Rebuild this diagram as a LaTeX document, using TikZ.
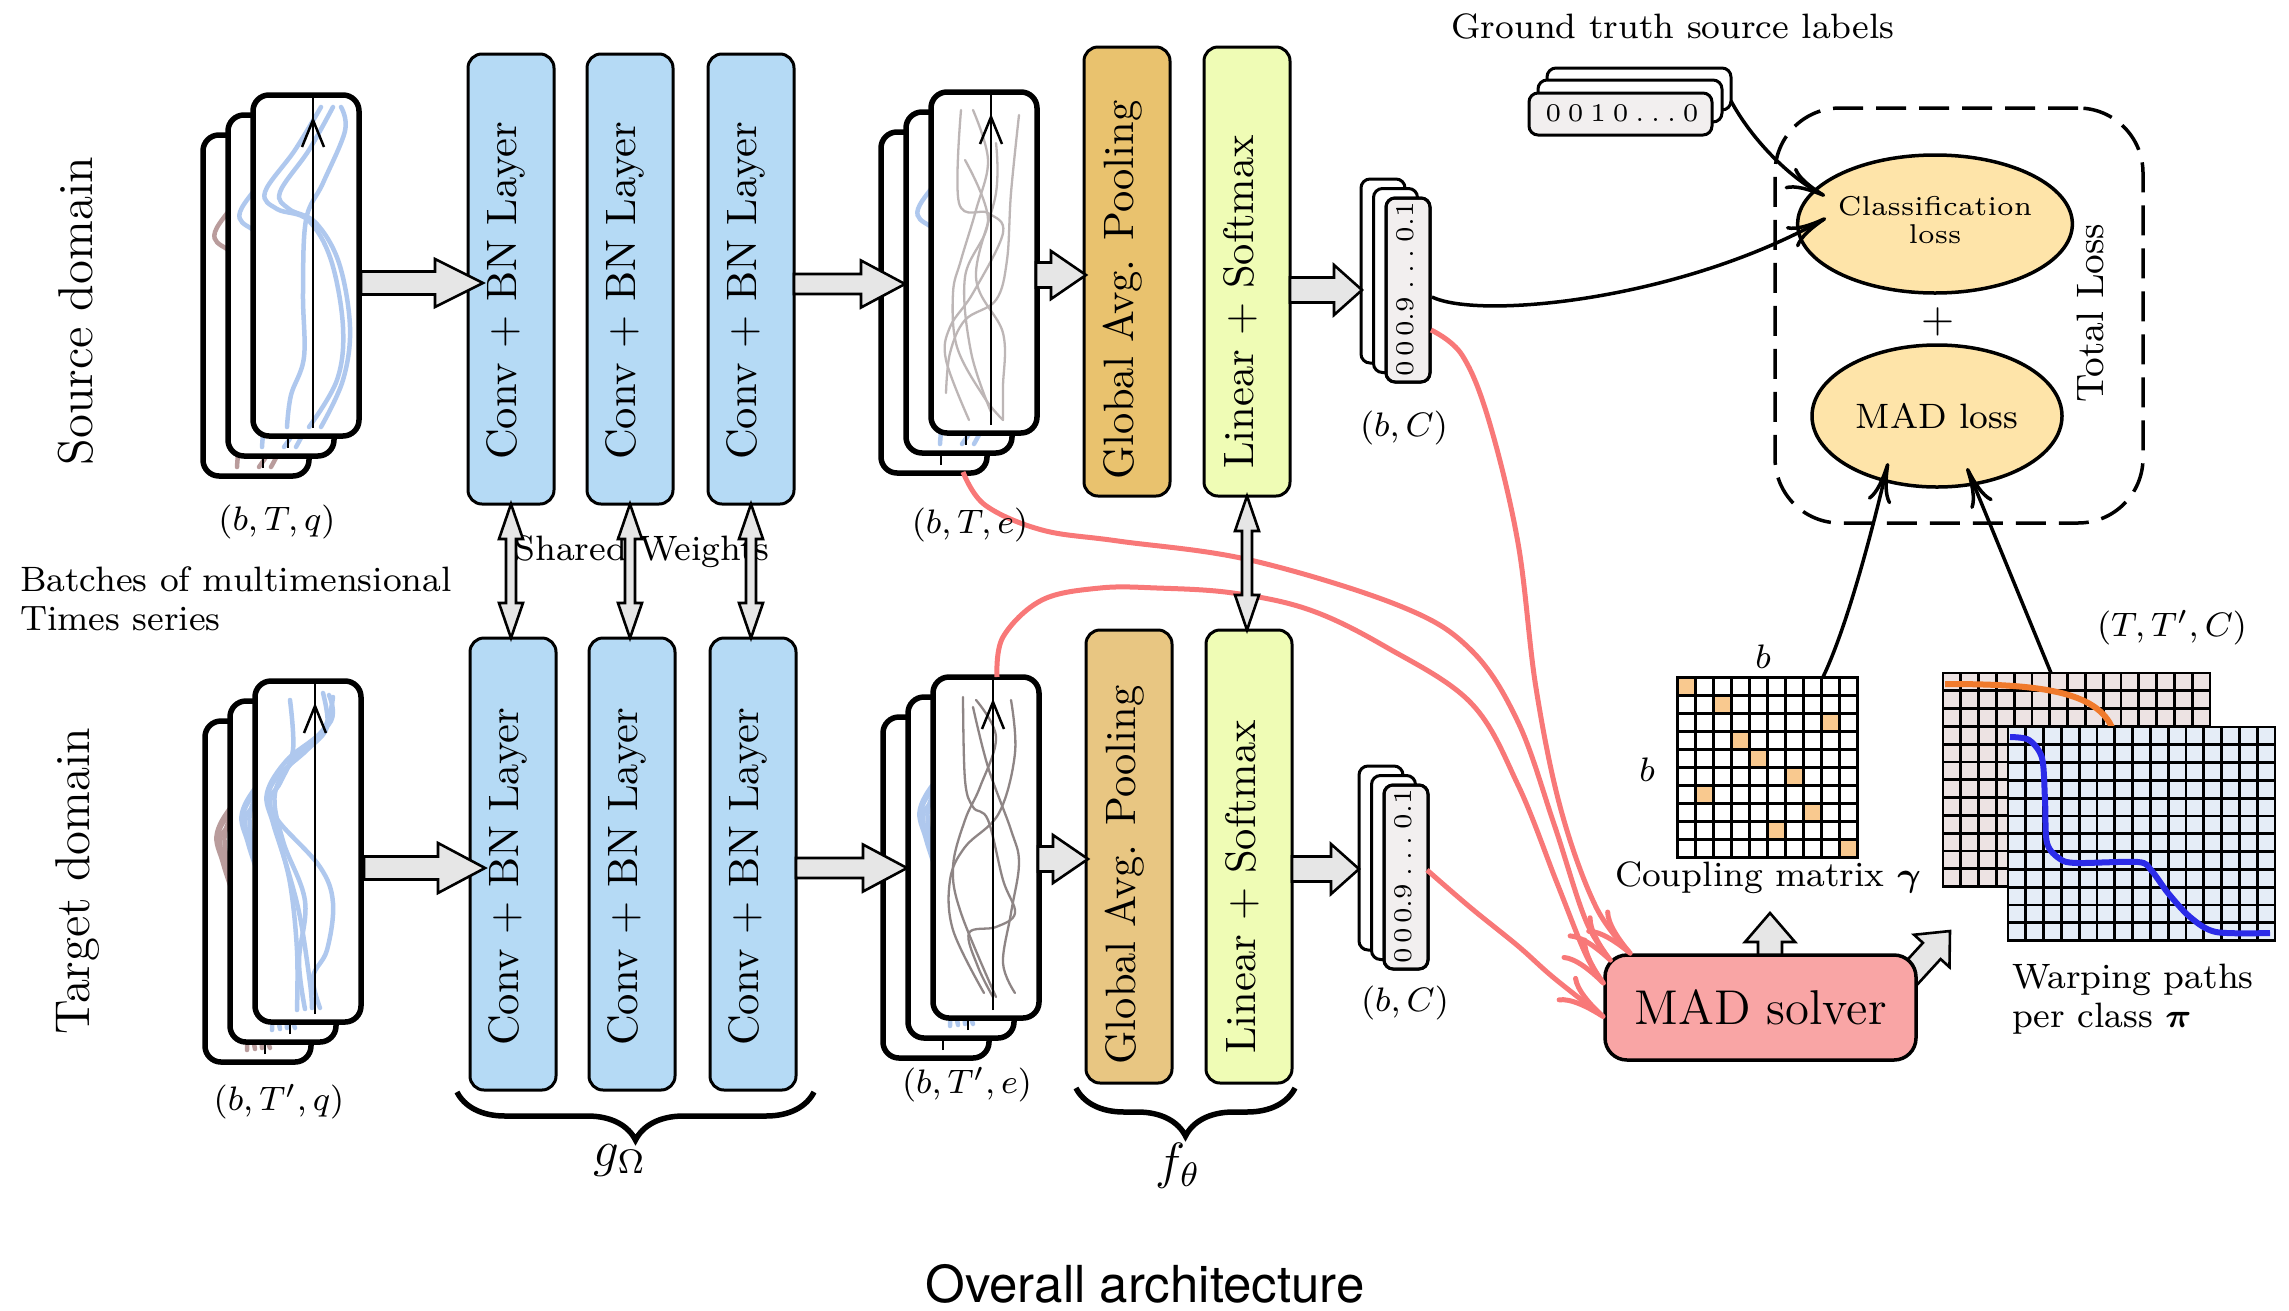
\documentclass[tikz,border=0pt]{standalone}
\usepackage{graphicx}
\usepackage{amsmath}
\usepackage{fontspec}
\newfontfamily\headfont{TeX Gyre Heros}
\usetikzlibrary{arrows.meta,decorations.pathreplacing,backgrounds,calc,shapes.geometric}

\definecolor{convblue}{HTML}{B5DAF5}
\definecolor{poolsrc}{HTML}{E9C26E}
\definecolor{pooltgt}{HTML}{E8C682}
\definecolor{lingreen}{HTML}{EFFCB5}
\definecolor{solverred}{HTML}{F9A5A5}
\definecolor{lossgold}{HTML}{FEE4A9}
\definecolor{arrowgray}{HTML}{E6E6E6}
\definecolor{seriesblue}{HTML}{AFC8EE}
\definecolor{seriesbrown}{HTML}{B99C9C}
\definecolor{featlight}{HTML}{BDB6B6}
\definecolor{featdark}{HTML}{8E8585}
\definecolor{flowred}{HTML}{F87878}
\definecolor{cellorange}{HTML}{F9C98F}
\definecolor{cellpink}{HTML}{EDE3E3}
\definecolor{cellblue}{HTML}{E5EDF7}
\definecolor{pathorange}{HTML}{F07A2C}
\definecolor{pathblue}{HTML}{2B2BE8}
\definecolor{vecgray}{HTML}{F2EFEF}

% text set at a small size and enlarged to the drawing scale
\newcommand\lab[2]{\scalebox{4.25}{\fontsize{#1}{#1}\selectfont #2}}
% spacing between the entries of a printed vector
\newcommand\vg{\hspace{.27em}}

\tikzset{
  every node/.style={inner sep=0pt, outer sep=0pt},
  layerbox/.style={draw, line width=3pt, rounded corners=14pt, minimum width=86pt},
  cardline/.style={line width=5.5pt},
  axisline/.style={line width=2.5pt},
  vecline/.style={line width=3pt, rounded corners=9pt},
  blockarrow/.style={draw, fill=arrowgray, line width=2.6pt, line join=miter},
  lossnode/.style={ellipse, draw, fill=lossgold, line width=3.5pt},
  flow/.style={draw=flowred, line width=5pt, -{Computer Modern Rightarrow[length=50pt,width=32pt]}},
  feed/.style={line width=3.5pt, -{Computer Modern Rightarrow[length=40pt,width=24pt]}},
  gridline/.style={line width=3pt, line cap=rect},
  bracemark/.style={decorate, decoration={brace, amplitude=48pt, mirror}, line width=5.5pt},
}

% wide block arrow from #1 to #2: shaft half-width #3, head half-width #4, head length #5
\newcommand\blockarrow[5]{%
  \path[blockarrow] let \p1=(#1), \p2=(#2),
      \n1={atan2((\y2)-(\y1),(\x2)-(\x1))}, \n2={veclen((\x2)-(\x1),(\y2)-(\y1))} in
    {[shift={(\p1)}, rotate=\n1]
     (0pt,#3pt) -- ({\n2+0pt-#5pt},#3pt) -- ({\n2+0pt-#5pt},#4pt) -- ({\n2+0pt},0pt)
     -- ({\n2+0pt-#5pt},-#4pt) -- ({\n2+0pt-#5pt},-#3pt) -- (0pt,-#3pt) -- cycle};}

% wide double-headed arrow
\newcommand\dblarrow[5]{%
  \path[blockarrow] let \p1=(#1), \p2=(#2),
      \n1={atan2((\y2)-(\y1),(\x2)-(\x1))}, \n2={veclen((\x2)-(\x1),(\y2)-(\y1))} in
    {[shift={(\p1)}, rotate=\n1]
     (0pt,0pt) -- (#5pt,#4pt) -- (#5pt,#3pt) -- ({\n2+0pt-#5pt},#3pt) -- ({\n2+0pt-#5pt},#4pt)
     -- ({\n2+0pt},0pt) -- ({\n2+0pt-#5pt},-#4pt) -- ({\n2+0pt-#5pt},-#3pt) -- (#5pt,-#3pt)
     -- (#5pt,-#4pt) -- cycle};}

% one rounded time-series card with its clipped curves and time axis
\newcommand\tscard[3]{%
  \begin{scope}[shift={(#1,#2)}]
    \fill[white, rounded corners=16pt] (0,0) rectangle (106,341);
    \begin{scope}
      \clip[rounded corners=16pt] (0,0) rectangle (106,341);
      #3
      \draw[axisline] (60,333) -- (60,2);
      \draw[axisline] (49,52) -- (60,25) -- (71,52);
    \end{scope}
    \draw[cardline, rounded corners=16pt] (0,0) rectangle (106,341);
  \end{scope}}

% input series, source batch
\newcommand\srcseries[1]{%
  \begin{scope}[color=#1, line width=4.5pt, line cap=round]
    \draw plot[smooth, tension=0.6] coordinates {(88,12) (92,36) (70,88) (53,125) (50,198) (51,262) (38,300) (34,332)};
    \draw plot[smooth, tension=0.6] coordinates {(68,12) (42,55) (12,97) (24,114) (55,125) (78,165) (90,232) (84,285) (56,332)};
    \draw plot[smooth, tension=0.6] coordinates {(80,12) (56,55) (27,97) (36,114) (63,128) (86,168) (97,232) (90,285) (68,332)};
  \end{scope}}

% input series, target batch
\newcommand\tgtseries[1]{%
  \begin{scope}[color=#1, line width=4.5pt, line cap=round]
    \draw plot[smooth, tension=0.6] coordinates {(35,19) (38,69) (25,102) (15,119) (22,152) (35,202) (42,269) (42,329)};
    \draw plot[smooth, tension=0.6] coordinates {(68,12) (72,46) (52,69) (22,96) (13,119) (25,142) (65,186) (78,222) (72,269) (58,296) (65,327)};
    \draw plot[smooth, tension=0.6] coordinates {(78,16) (68,49) (32,79) (12,112) (18,142) (32,186) (45,236) (55,302) (57,327)};
    \draw plot[smooth, tension=0.6] coordinates {(74,14) (76,40) (42,75) (20,112) (28,160) (50,220) (44,280) (50,328)};
  \end{scope}}

% embedded series, source batch
\newcommand\srcfeat{%
  \begin{scope}[color=featlight, line width=2.3pt, line cap=round]
    \draw plot[smooth, tension=0.6] coordinates {(30,18) (28,111) (57,121) (72,141) (42,201) (19,235) (15,268) (38,328)};
    \draw plot[smooth, tension=0.6] coordinates {(42,18) (57,68) (45,118) (30,168) (22,201) (26,255) (53,305) (72,328)};
    \draw plot[smooth, tension=0.6] coordinates {(88,23) (80,101) (76,168) (65,208) (34,228) (19,261) (15,301)};
    \draw plot[smooth, tension=0.6] coordinates {(65,51) (65,101) (45,185) (72,241) (72,295) (72,328)};
    \draw plot[smooth, tension=0.6] coordinates {(34,68) (57,128) (34,185) (40,260) (60,320)};
  \end{scope}}

% embedded series, target batch
\newcommand\tgtfeat{%
  \begin{scope}[color=featdark, line width=2.3pt, line cap=round]
    \draw plot[smooth, tension=0.6] coordinates {(30,20) (32,103) (40,130) (55,143) (70,203) (82,236) (63,250) (36,256) (45,290) (60,320)};
    \draw plot[smooth, tension=0.6] coordinates {(43,23) (63,60) (47,110) (32,143) (20,190) (28,236) (63,320)};
    \draw plot[smooth, tension=0.6] coordinates {(78,23) (82,76) (66,136) (32,170) (17,203) (20,253) (51,316)};
    \draw plot[smooth, tension=0.6] coordinates {(40,30) (55,90) (78,153) (86,186) (78,236) (70,286) (82,316)};
  \end{scope}}

% stack of three prediction vectors, front card at (#1,#2)
\newcommand\vecstack[3]{%
  \draw[vecline, fill=white] (#1-25,#2-19) rectangle ++(44,184);
  \draw[vecline, fill=white] (#1-12.5,#2-9.5) rectangle ++(44,184);
  \draw[vecline, fill=vecgray] (#1,#2) rectangle ++(44,184);
  \begin{scope}
    \clip[rounded corners=9pt] (#1,#2) rectangle ++(44,184);
    \node[rotate=90, anchor=east] (#3) at (#1+19,#2+4)
      {\lab{6}{0\,0\,0\,0.9\vg.\vg.\vg.\vg0.1}};
  \end{scope}
  \draw[vecline] (#1,#2) rectangle ++(44,184);}

\begin{document}
\begin{tikzpicture}[x=1pt,y=-1pt]
\useasboundingbox (0,0) rectangle (2289,1310);

% ---------------- loss block
\node[draw, dash pattern=on 30pt off 13pt, line width=3.5pt, rounded corners=65pt,
      minimum width=368pt, minimum height=415pt] (lossframe) at (1959,315.5) {};
\node[lossnode, minimum width=250pt, minimum height=138pt] (closs) at (1935,224)
  {\scalebox{4.25}{\fontsize{6.4}{6.4}\selectfont\begin{tabular}{@{}c@{}}Classification\\loss\end{tabular}}};
\node (plus) at (1938,322) {\lab{10}{+}};
\node[lossnode, minimum width=250pt, minimum height=142pt] (madloss) at (1937,416) {\lab{8.3}{MAD loss}};
\node[rotate=90] (totloss) at (2090,313) {\lab{9}{Total Loss}};

% ---------------- ground-truth label vectors
\node (gttitle) at (1673,26) {\lab{8.3}{Ground truth source labels}};
\draw[vecline, fill=white] (1547,68) rectangle (1731,110);
\draw[vecline, fill=white] (1538,80) rectangle (1722,122);
\draw[vecline, fill=vecgray] (1529,93) rectangle (1712,135);
\node (gtvec) at (1622,113) {\lab{6}{0\vg0\vg1\vg0\vg.\vg.\vg.\vg0}};
\coordinate (gtout) at (1731,101);

% ---------------- batches of series
\tscard{203}{135}{\srcseries{seriesbrown}}
\tscard{228}{115}{\srcseries{seriesblue}}
\tscard{253}{95}{\srcseries{seriesblue}}

\tscard{205}{721}{\tgtseries{seriesbrown}}
\tscard{230}{701}{\tgtseries{seriesblue}}
\tscard{255}{681}{\tgtseries{seriesblue}}

\tscard{881}{132}{}
\tscard{906}{112}{\srcseries{seriesblue}}
\tscard{931}{92}{\srcfeat}

\tscard{883}{717}{}
\tscard{908}{697}{\tgtseries{seriesblue}}
\tscard{933}{677}{\tgtfeat}

% ---------------- feature extractor and classifier
\node[layerbox, fill=convblue, minimum height=450pt] (sconv1) at (511,279) {};
\node[layerbox, fill=convblue, minimum height=450pt] (sconv2) at (630,279) {};
\node[layerbox, fill=convblue, minimum height=450pt] (sconv3) at (751,279) {};
\node[layerbox, fill=poolsrc, minimum height=449pt] (spool) at (1127,271.5) {};
\node[layerbox, fill=lingreen, minimum height=449pt] (slin) at (1247,271.5) {};

\node[layerbox, fill=convblue, minimum height=452pt] (tconv1) at (513,864) {};
\node[layerbox, fill=convblue, minimum height=452pt] (tconv2) at (632,864) {};
\node[layerbox, fill=convblue, minimum height=452pt] (tconv3) at (753,864) {};
\node[layerbox, fill=pooltgt, minimum height=453pt] (tpool) at (1129,856.5) {};
\node[layerbox, fill=lingreen, minimum height=453pt] (tlin) at (1249,856.5) {};

\node[rotate=90] (sconv1t) at (506,291) {\lab{10}{Conv + BN Layer}};
\node[rotate=90] (sconv2t) at (625,291) {\lab{10}{Conv + BN Layer}};
\node[rotate=90] (sconv3t) at (746,291) {\lab{10}{Conv + BN Layer}};
\node[rotate=90] (spoolt) at (1123,290) {\lab{10}{Global Avg. Pooling}};
\node[rotate=90] (slint) at (1240,302) {\lab{10}{Linear + Softmax}};
\node[rotate=90] (tconv1t) at (508,877) {\lab{10}{Conv + BN Layer}};
\node[rotate=90] (tconv2t) at (627,877) {\lab{10}{Conv + BN Layer}};
\node[rotate=90] (tconv3t) at (748,877) {\lab{10}{Conv + BN Layer}};
\node[rotate=90] (tpoolt) at (1125,875) {\lab{10}{Global Avg. Pooling}};
\node[rotate=90] (tlint) at (1242,887) {\lab{10}{Linear + Softmax}};

% ---------------- predictions
\vecstack{1386}{198}{svec}
\vecstack{1384}{785}{tvec}

% ---------------- coupling matrix
\begin{scope}[shift={(1677,677)}]
  \fill[white] (0,0) rectangle (180,180);
  \foreach \c/\r in {0/0,2/1,8/2,3/3,4/4,6/5,1/6,7/7,5/8,9/9}
    \fill[cellorange] (\c*18,\r*18) rectangle ++(18,18);
  \foreach \i in {0,...,10} {
    \draw[gridline] (\i*18,0) -- (\i*18,180);
    \draw[gridline] (0,\i*18) -- (180,\i*18);
  }
\end{scope}
\coordinate (gammatop) at (1823,677);
\node (bcol) at (1763,657) {\lab{8}{$b$}};
\node (brow) at (1647,770) {\lab{8}{$b$}};
\node (gammalab) at (1768,878) {\lab{8.3}{Coupling matrix $\boldsymbol{\gamma}$}};

% ---------------- warping paths
\begin{scope}[shift={(1943,673)}]
  \fill[cellpink] (0,0) rectangle (267,213.6);
  \foreach \i in {0,...,15} \draw[gridline, line width=2.8pt] (\i*17.8,0) -- (\i*17.8,213.6);
  \foreach \j in {0,...,12} \draw[gridline, line width=2.8pt] (0,\j*17.8) -- (267,\j*17.8);
\end{scope}
\draw[pathorange, line width=6pt] (1945,684) .. controls (2035,684) and (2098,690) .. (2113,730);
\begin{scope}[shift={(2008,727)}]
  \fill[cellblue] (0,0) rectangle (267,213.6);
  \foreach \i in {0,...,15} \draw[gridline, line width=2.8pt] (\i*17.8,0) -- (\i*17.8,213.6);
  \foreach \j in {0,...,12} \draw[gridline, line width=2.8pt] (0,\j*17.8) -- (267,\j*17.8);
\end{scope}
\draw[pathblue, line width=6pt] plot[smooth, tension=0.5] coordinates
  {(2010,737) (2029,740) (2042,758) (2045,800) (2047,843) (2060,859) (2077,863) (2138,862)
   (2151,870) (2168,893) (2190,917) (2216,932) (2270,933)};
\coordinate (pitop) at (2051,673);
\node (pishape) at (2172,628) {\lab{8}{$(T,T',C)$}};
\node[anchor=west] (pilab) at (2012,1000)
  {\scalebox{4.25}{\fontsize{8.3}{9.2}\selectfont\begin{tabular}{@{}l@{}}Warping paths\\per class $\boldsymbol{\pi}$\end{tabular}}};

% ---------------- solver
\node[draw, fill=solverred, line width=3.5pt, rounded corners=22pt, minimum width=311pt,
      minimum height=105pt] (solver) at (1760.5,1007.5) {\lab{11.5}{MAD solver}};
\coordinate (solvA) at (1770,975);
\coordinate (gammain) at (1770,913);
\coordinate (solvB) at (1896,990);
\coordinate (piin) at (1950,931);
\begin{scope}[on background layer]
  \blockarrow{solvA}{gammain}{12}{25}{29}
  \blockarrow{solvB}{piin}{12}{24}{27}
\end{scope}

% ---------------- inputs of the solver
\coordinate (svecout) at (1431,330);
\coordinate (tvecout) at (1427,870);
\coordinate (soutbot) at (963,472);
\coordinate (touttop) at (997,677);
\coordinate (solverin1) at (1632,955);
\coordinate (solverin2) at (1612,962);
\coordinate (solverin3) at (1605,985);
\coordinate (solverin4) at (1605,1018);
\draw[flow] plot[smooth, tension=0.6] coordinates
  {(svecout) (1462,355) (1489,421) (1518,543) (1536,688) (1561,810) (1596,907) (solverin1)};
\draw[flow] plot[smooth, tension=0.6] coordinates
  {(soutbot) (985,505) (1042,530) (1118,541) (1250,560) (1400,606) (1471,650) (1518,722)
   (1554,824) (1586,921) (solverin2)};
\draw[flow] plot[smooth, tension=0.6] coordinates
  {(touttop) (1003,637) (1042,600) (1100,588) (1157,588) (1233,593) (1310,610) (1386,647)
   (1471,703) (1518,785) (1557,883) (1586,955) (solverin3)};
\draw[flow] plot[smooth, tension=0.6] coordinates
  {(tvecout) (1471,908) (1518,946) (1554,978) (solverin4)};

% ---------------- loss terms
\coordinate (svecloss) at (1432,297);
\draw[feed] (gtout) .. controls (1752,140) and (1790,178) .. (1825,196);
\draw[feed] (svecloss) .. controls (1480,320) and (1680,300) .. (1826,218);
\draw[feed] (gammatop) .. controls (1848,625) and (1875,520) .. (1888,463);
\draw[feed] (pitop) -- (1967,468);

% ---------------- data flow arrows
\coordinate (sinR) at (361,283);   \coordinate (sinTip) at (483,283);
\coordinate (tinR) at (364,868);   \coordinate (tinTip) at (485,868);
\coordinate (sc3R) at (794,284);   \coordinate (soutTip) at (905,284);
\coordinate (tc3R) at (796,868);   \coordinate (toutTip) at (907,868);
\coordinate (soutR) at (1036,275); \coordinate (spoolTip) at (1086,275);
\coordinate (toutR) at (1038,859); \coordinate (tpoolTip) at (1088,859);
\coordinate (svecTip) at (1362,290);
\coordinate (tvecTip) at (1359,869);
\blockarrow{sinR}{sinTip}{11.5}{24}{48}
\blockarrow{tinR}{tinTip}{11.5}{25}{47}
\blockarrow{sc3R}{soutTip}{10}{23.5}{44}
\blockarrow{tc3R}{toutTip}{10}{23.5}{44}
\blockarrow{soutR}{spoolTip}{12.5}{24}{35}
\blockarrow{toutR}{tpoolTip}{12.5}{24}{35}
\blockarrow{slin.east |- svecTip}{svecTip}{12.5}{25}{28}
\blockarrow{tlin.east |- tvecTip}{tvecTip}{12.5}{25}{28}

% ---------------- weight sharing
\node (shared) at (642,552) {\lab{8.3}{Shared Weights}};
\dblarrow{sconv1.south}{sconv1.south |- tconv1.north}{5}{12}{35}
\dblarrow{sconv2.south}{sconv2.south |- tconv2.north}{5}{12}{35}
\dblarrow{sconv3.south}{sconv3.south |- tconv3.north}{5}{12}{35}
\dblarrow{slin.south}{slin.south |- tlin.north}{5}{12}{35}

% ---------------- labels
\node[rotate=90] (srcdom) at (76,311) {\lab{11.5}{Source domain}};
\node[rotate=90] (tgtdom) at (78,881) {\lab{11.5}{Target domain}};
\node[anchor=west] (batches) at (20,603)
  {\scalebox{4.25}{\fontsize{8.3}{9.2}\selectfont\begin{tabular}{@{}l@{}}Batches of multimensional\\Times series\end{tabular}}};
\node (sinshape) at (277,522) {\lab{8}{$(b,T,q)$}};
\node (soutshape) at (970,525) {\lab{8}{$(b,T,e)$}};
\node (tinshape) at (279,1102) {\lab{8}{$(b,T',q)$}};
\node (toutshape) at (967,1085) {\lab{8}{$(b,T',e)$}};
\node (svecshape) at (1404,428) {\lab{8}{$(b,C)$}};
\node (tvecshape) at (1405,1003) {\lab{8}{$(b,C)$}};

% ---------------- model parts
\draw[bracemark] (457,1092) -- (814,1092);
\node (glab) at (620,1160) {\lab{12}{$g_\Omega$}};
\draw[bracemark] (1076,1088) -- (1295,1088);
\node (flab) at (1178,1166) {\lab{12}{$f_\theta$}};

\node (title) at (1145,1284) {\lab{12}{\headfont Overall architecture}};
\end{tikzpicture}
\end{document}
